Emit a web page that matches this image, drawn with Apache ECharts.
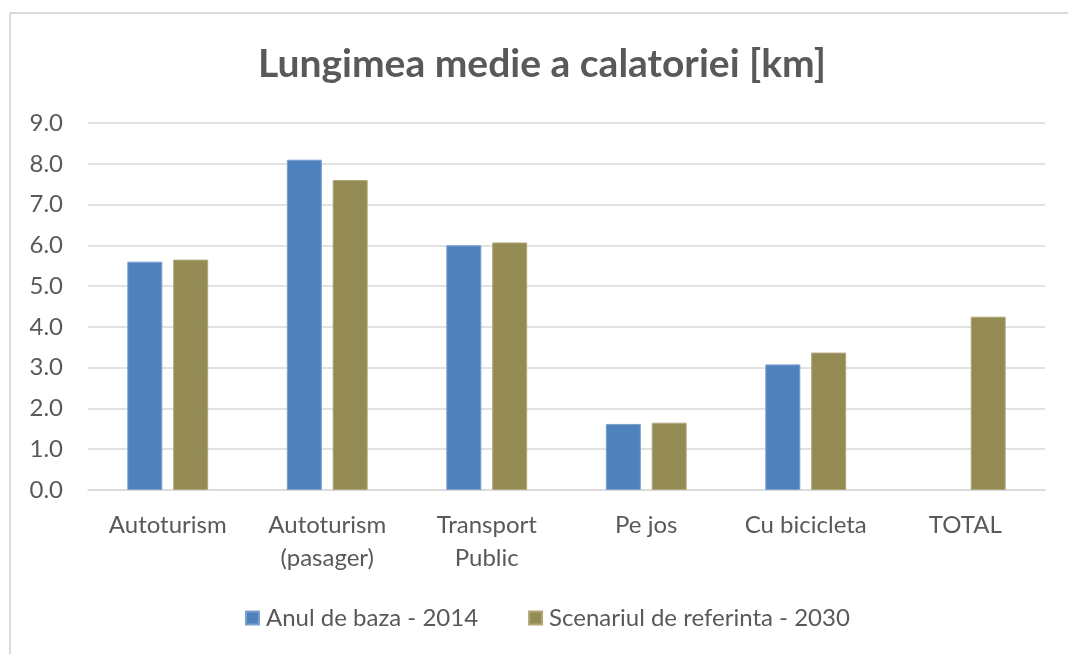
<!DOCTYPE html>
<html>
<head>
<meta charset="utf-8">
<script src="https://cdn.jsdelivr.net/npm/echarts@6/dist/echarts.min.js"></script>
<style>
  html, body { margin: 0; padding: 0; background: #fff; }
  #chart { width: 1068px; height: 654px; }
</style>
</head>
<body>
<div id="chart"></div>
<script>
// Average trip length per transport mode, base year vs. reference scenario
const categories = ['Autoturism', 'Autoturism\n(pasager)', 'Transport\nPublic', 'Pe jos', 'Cu bicicleta', 'TOTAL'];
const seriesNames = ['Anul de baza - 2014', 'Scenariul de referinta - 2030'];
const base2014 = [5.6, 8.1, 6.0, 1.62, 3.08, null];
const reference2030 = [5.65, 7.6, 6.07, 1.65, 3.37, 4.25];

const textColor = '#595959';
const fontFamily = 'Lato, "Open Sans", sans-serif';

const chart = echarts.init(document.getElementById('chart'), null, { renderer: 'canvas' });

chart.setOption({
  backgroundColor: '#fff',
  animation: false,
  title: {
    text: 'Lungimea medie a calatoriei [km]',
    left: 253,
    top: 40,
    textStyle: { color: textColor, fontFamily, fontSize: 39, fontWeight: 'bold' }
  },
  graphic: [
    // chart frame edges
    { type: 'line', shape: { x1: 10, y1: 13, x2: 1068, y2: 13 }, style: { stroke: '#d9d9d9', lineWidth: 2 } },
    { type: 'line', shape: { x1: 10, y1: 13, x2: 10, y2: 654 }, style: { stroke: '#d9d9d9', lineWidth: 2 } }
  ],
  legend: {
    data: seriesNames,
    top: 601,
    left: 240,
    itemWidth: 13,
    itemHeight: 13,
    itemGap: 50,
    icon: 'rect',
    textStyle: { color: textColor, fontFamily, fontSize: 24, padding: [0, 0, 0, 2] }
  },
  grid: { left: 88, right: 23, top: 123, bottom: 164 },
  xAxis: {
    type: 'category',
    data: categories,
    axisLine: { show: true, lineStyle: { color: '#d9d9d9', width: 1.5 } },
    axisTick: { show: false },
    axisLabel: { color: textColor, fontFamily, fontSize: 24, lineHeight: 33, margin: 19 }
  },
  yAxis: {
    type: 'value',
    min: 0,
    max: 9,
    interval: 1,
    axisLine: { show: false },
    axisTick: { show: false },
    splitLine: { lineStyle: { color: '#d9d9d9', width: 1.5 } },
    axisLabel: {
      color: textColor, fontFamily, fontSize: 24, margin: 25,
      formatter: v => v.toFixed(1)
    }
  },
  series: [
    {
      name: seriesNames[0],
      type: 'bar',
      data: base2014,
      barWidth: 35,
      barGap: '31%',
      itemStyle: { color: '#4F81BD', borderColor: '#7aa0d0', borderWidth: 1 }
    },
    {
      name: seriesNames[1],
      type: 'bar',
      data: reference2030,
      barWidth: 35,
      itemStyle: { color: '#948A54', borderColor: '#b0a87a', borderWidth: 1 }
    }
  ]
});
</script>
</body>
</html>
